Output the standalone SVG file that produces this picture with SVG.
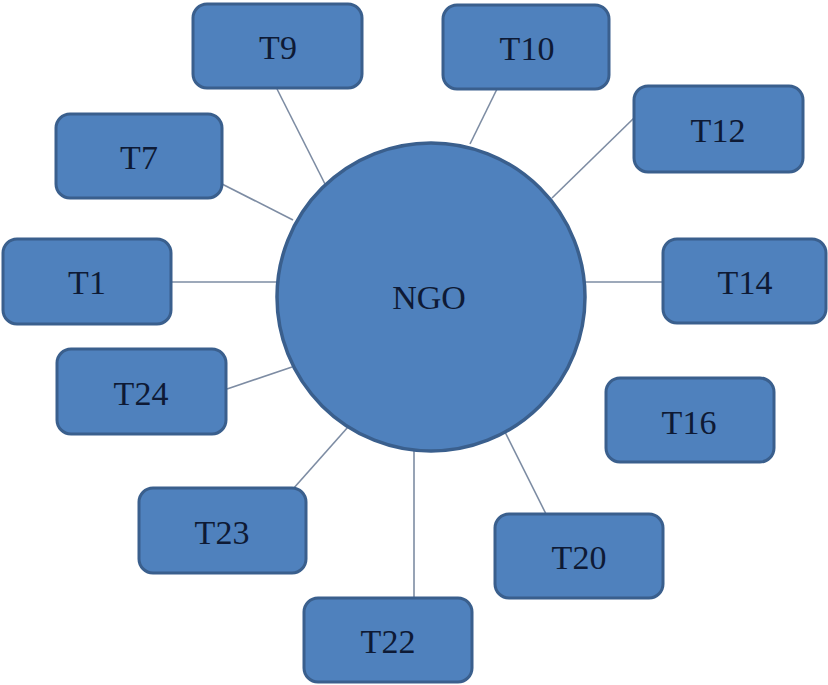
<svg xmlns="http://www.w3.org/2000/svg" width="828" height="685" viewBox="0 0 828 685">
  <style>
    .box { fill: #4f81bd; stroke: #3a5f8d; stroke-width: 3; }
    .hub { fill: #4f81bd; stroke: #3a5f8d; stroke-width: 3.5; }
    .lbl { font-family: "Liberation Serif", "Times New Roman", serif; font-size: 34px; fill: #0e1a35; text-anchor: middle; }
    .link { stroke: #7d8ca3; stroke-width: 1.6; fill: none; }
  </style>
  <rect width="828" height="685" fill="#ffffff"/>

  <g id="connectors">
    <line class="link" x1="277" y1="89" x2="325" y2="184"/>
    <line class="link" x1="497" y1="89" x2="470" y2="144"/>
    <line class="link" x1="634" y1="118" x2="552" y2="198"/>
    <line class="link" x1="222" y1="184" x2="293" y2="220"/>
    <line class="link" x1="171" y1="282" x2="277" y2="282"/>
    <line class="link" x1="584" y1="282" x2="663" y2="282"/>
    <line class="link" x1="227" y1="389" x2="292" y2="367"/>
    <line class="link" x1="293" y1="489" x2="348" y2="427"/>
    <line class="link" x1="414" y1="598" x2="414" y2="450"/>
    <line class="link" x1="546" y1="514" x2="505" y2="432"/>
  </g>

  <g id="ngo">
    <circle class="hub" cx="431" cy="297" r="154"/>
    <text class="lbl" x="429" y="309">NGO</text>
  </g>

  <g id="t9">
    <rect class="box" x="193" y="4" width="169" height="84" rx="14"/>
    <text class="lbl" x="278" y="59">T9</text>
  </g>
  <g id="t10">
    <rect class="box" x="443" y="5" width="166" height="84" rx="14"/>
    <text class="lbl" x="527" y="60">T10</text>
  </g>
  <g id="t12">
    <rect class="box" x="634" y="86" width="169" height="86" rx="14"/>
    <text class="lbl" x="718" y="142">T12</text>
  </g>
  <g id="t7">
    <rect class="box" x="56" y="114" width="166" height="84" rx="14"/>
    <text class="lbl" x="139" y="169">T7</text>
  </g>
  <g id="t1">
    <rect class="box" x="3" y="239" width="168" height="85" rx="14"/>
    <text class="lbl" x="87" y="294">T1</text>
  </g>
  <g id="t14">
    <rect class="box" x="663" y="239" width="163" height="84" rx="14"/>
    <text class="lbl" x="745" y="294">T14</text>
  </g>
  <g id="t24">
    <rect class="box" x="57" y="349" width="169" height="85" rx="14"/>
    <text class="lbl" x="141" y="405">T24</text>
  </g>
  <g id="t16">
    <rect class="box" x="606" y="378" width="168" height="84" rx="14"/>
    <text class="lbl" x="689" y="434">T16</text>
  </g>
  <g id="t23">
    <rect class="box" x="139" y="488" width="167" height="85" rx="14"/>
    <text class="lbl" x="222" y="544">T23</text>
  </g>
  <g id="t20">
    <rect class="box" x="495" y="514" width="168" height="84" rx="14"/>
    <text class="lbl" x="579" y="569">T20</text>
  </g>
  <g id="t22">
    <rect class="box" x="304" y="598" width="168" height="84" rx="14"/>
    <text class="lbl" x="388" y="653">T22</text>
  </g>
</svg>
